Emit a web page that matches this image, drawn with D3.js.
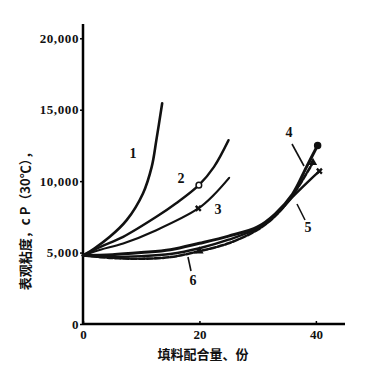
<!DOCTYPE html>
<html>
<head>
<meta charset="utf-8">
<script src="https://cdn.jsdelivr.net/npm/d3@7"></script>
<style>
	body { margin: 0; background: #fff; }
	svg text { fill: #111; }
</style>
</head>
<body>
<svg id="chart" width="373" height="371"></svg>
<script>
// values: [filler parts, viscosity cP]
var curve1 = [[0, 4800], [2, 5300], [4.6, 6100], [7.5, 7270], [10.3, 9140], [11.8, 11000], [12.6, 12870], [13.6, 15450]];
var curve2 = [[0, 4800], [3, 5400], [6.9, 6100], [12.6, 7500], [16, 8450], [19.9, 9720], [22.5, 11000], [25, 12870]];
var curve3 = [[0, 4800], [3, 5200], [6.9, 5640], [12.6, 6570], [19.8, 8090], [22.5, 9050], [25.1, 10230]];
var curve4 = [[0, 4800], [5, 4850], [10, 5000], [15, 5200], [20, 5650], [25, 6150], [30, 6800], [33, 7700], [36, 9100], [38.4, 11000], [40.3, 12500]];
var curve5 = [[0, 4800], [5, 4700], [10, 4750], [15, 4900], [20, 5300], [25, 5900], [30, 6700], [33, 7600], [36, 8900], [38.5, 9900], [40.6, 10700]];
var curve6 = [[0, 4800], [5, 4620], [10, 4570], [15, 4680], [20, 5100], [25, 5650], [30, 6600], [33, 7550], [36, 9000], [39.5, 11300]];

var yTicks = [0, 5000, 10000, 15000, 20000];
var yTickLabels = ["0", "5,000", "10,000", "15,000", "20,000"];
var xTicks = [0, 20, 40];

var svg = d3.select("#chart");

var x = d3.scaleLinear().domain([0, 45]).range([83, 345]);
var y = d3.scaleLinear().domain([0, 21000]).range([324, 24]);

function translate(a, b) { return "translate(" + a + "," + b + ")"; }

var numFont = "'Liberation Serif', 'DejaVu Serif', serif";
var cjkFont = "'Noto Sans CJK SC', sans-serif";

// axes
var yAxis = svg.append("g")
	.attr("transform", translate(x(0), 0))
	.call(d3.axisLeft(y).tickValues(yTicks).tickSize(3)
		.tickFormat(function(d, i){ return yTickLabels[i]; }));
yAxis.select(".domain").attr("stroke-width", 2.5).attr("d", "M0," + y(0) + "V" + y(21000));
yAxis.selectAll(".tick line").attr("stroke-width", 1.5);
yAxis.selectAll("text")
	.attr("x", -4)
	.attr("font-family", numFont)
	.attr("font-weight", "bold")
	.attr("font-size", 13)
	.attr("letter-spacing", 0.6);

var xAxis = svg.append("g")
	.attr("transform", translate(0, y(0)))
	.call(d3.axisBottom(x).tickValues(xTicks).tickSize(-3).tickFormat(d3.format("d")));
xAxis.select(".domain").attr("stroke-width", 2.5).attr("d", "M" + x(0) + ",0H" + x(45));
xAxis.selectAll(".tick line").attr("stroke-width", 1.5);
xAxis.selectAll("text")
	.attr("y", 6)
	.attr("font-family", numFont)
	.attr("font-weight", "bold")
	.attr("font-size", 13);

// axis titles
svg.append("text")
	.attr("transform", translate(26, 218) + " rotate(-90)")
	.attr("text-anchor", "middle")
	.attr("dominant-baseline", "middle")
	.attr("font-family", cjkFont)
	.attr("font-weight", "bold")
	.attr("font-size", 13)
	.text("表观粘度，c P（30℃），");

svg.append("text")
	.attr("x", 203)
	.attr("y", 359)
	.attr("text-anchor", "middle")
	.attr("font-family", cjkFont)
	.attr("font-weight", "bold")
	.attr("font-size", 13)
	.text("填料配合量、份");

// curves
var line = d3.line()
	.x(function(d){ return x(d[0]); })
	.y(function(d){ return y(d[1]); })
	.curve(d3.curveCatmullRom.alpha(0.5));

var series = [
	{ data: curve1, width: 2.6, dash: null },
	{ data: curve2, width: 2.4, dash: null },
	{ data: curve3, width: 2.2, dash: null },
	{ data: curve6, width: 2.6, dash: "6,2" },
	{ data: curve5, width: 2.4, dash: null },
	{ data: curve4, width: 3, dash: null }
];

svg.append("g").selectAll("path")
	.data(series)
	.enter().append("path")
	.attr("d", function(d){ return line(d.data); })
	.attr("fill", "none")
	.attr("stroke", "#111")
	.attr("stroke-width", function(d){ return d.width; })
	.attr("stroke-dasharray", function(d){ return d.dash; })
	.attr("stroke-linecap", "round");

// markers
var circleMarks = [curve2[5], curve4[curve4.length - 1]];
svg.append("g").selectAll("circle")
	.data(circleMarks)
	.enter().append("circle")
	.attr("cx", function(d){ return x(d[0]); })
	.attr("cy", function(d){ return y(d[1]); })
	.attr("r", function(d, i){ return i === 0 ? 2.8 : 3; })
	.attr("fill", function(d, i){ return i === 0 ? "#fff" : "#111"; })
	.attr("stroke", "#111")
	.attr("stroke-width", 1.5);

var crossMarks = [curve3[4], curve5[curve5.length - 1]];
svg.append("g").selectAll("path")
	.data(crossMarks)
	.enter().append("path")
	.attr("transform", function(d){ return translate(x(d[0]), y(d[1])); })
	.attr("d", d3.symbol().type(d3.symbolCross).size(28))
	.attr("transform", function(d){ return translate(x(d[0]), y(d[1])) + " rotate(45)"; })
	.attr("fill", "#111");

var triMarks = [curve6[4], curve6[curve6.length - 1]];
svg.append("g").selectAll("path")
	.data(triMarks)
	.enter().append("path")
	.attr("transform", function(d){ return translate(x(d[0]), y(d[1])); })
	.attr("d", d3.symbol().type(d3.symbolTriangle).size(30))
	.attr("fill", "#111");

// curve labels and leaders
var labels = [
	{ text: "1", x: 133, y: 155 },
	{ text: "2", x: 181, y: 180 },
	{ text: "3", x: 218, y: 211 },
	{ text: "4", x: 289, y: 134 },
	{ text: "5", x: 308, y: 229 },
	{ text: "6", x: 193, y: 282 }
];
svg.append("g").selectAll("text")
	.data(labels)
	.enter().append("text")
	.attr("x", function(d){ return d.x; })
	.attr("y", function(d){ return d.y; })
	.attr("text-anchor", "middle")
	.attr("dominant-baseline", "middle")
	.attr("font-family", numFont)
	.attr("font-weight", "bold")
	.attr("font-size", 14)
	.text(function(d){ return d.text; });

var leaders = [
	[[292, 144], [304, 166]],
	[[297, 204], [305, 220]],
	[[188, 257], [191, 271]]
];
svg.append("g").selectAll("path")
	.data(leaders)
	.enter().append("path")
	.attr("d", function(d){ return d3.line()(d); })
	.attr("stroke", "#111")
	.attr("stroke-width", 1.6);
</script>
</body>
</html>
